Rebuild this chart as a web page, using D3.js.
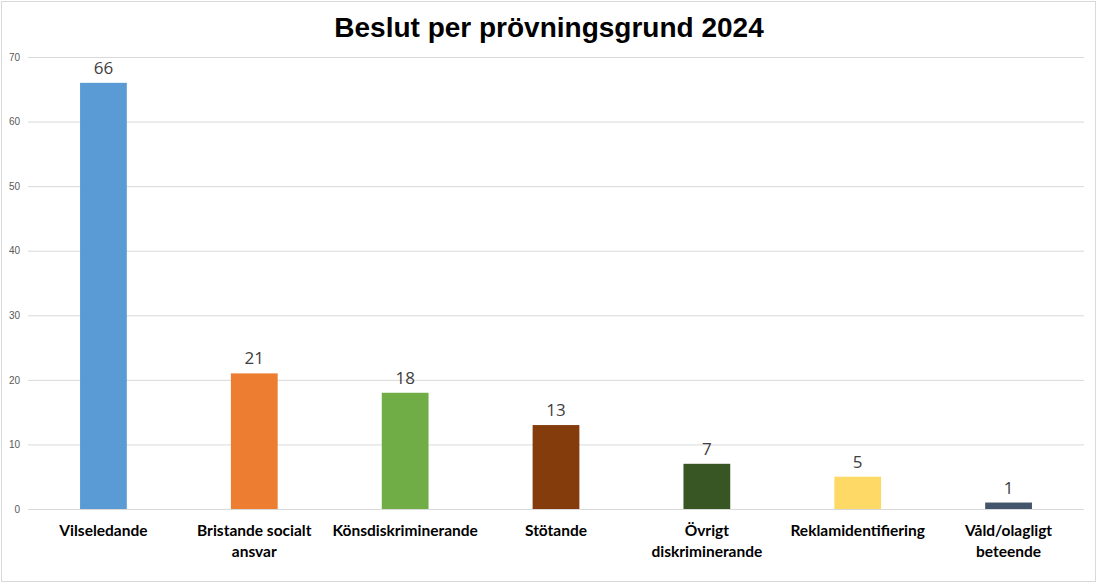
<!DOCTYPE html>
<html>
<head>
<meta charset="utf-8">
<script src="https://cdn.jsdelivr.net/npm/d3@7"></script>
<style>
    body { margin: 0; background: #fff; }
    svg { display: block; }
</style>
</head>
<body>
<svg id="chart" width="1098" height="584"></svg>
<script>
// categories, "|" marks where the label wraps
const categories = [
    "Vilseledande",
    "Bristande socialt|ansvar",
    "Könsdiskriminerande",
    "Stötande",
    "Övrigt|diskriminerande",
    "Reklamidentifiering",
    "Våld/olagligt|beteende"
]

const decisions = [66, 21, 18, 13, 7, 5, 1]

const barColors = [
    "#5B9BD5",
    "#ED7D31",
    "#70AD47",
    "#843C0C",
    "#375623",
    "#FFD966",
    "#44546A"
]

const yTicks = [0, 10, 20, 30, 40, 50, 60, 70]

let margin = {
    top: 57,
    right: 14, // leave space at right edge
    bottom: 75, // leave space for x-axis labels
    left: 28
};

let svg = d3.select("#chart");
let width = 1098, height = 584;
let plotWidth = width - margin.left - margin.right;
let plotHeight = height - margin.top - margin.bottom;

// outer border
svg.append("rect")
    .attr("x", 1.5).attr("y", 1.5)
    .attr("width", width - 4).attr("height", height - 4)
    .attr("fill", "#fff")
    .attr("stroke", "#d9d9d9");

svg.append("text")
    .attr("x", width / 2)
    .attr("y", 37)
    .attr("text-anchor", "middle")
    .style("font-family", "Liberation Sans, Arial, sans-serif")
    .style("font-weight", "bold")
    .style("font-size", "28px")
    .text("Beslut per prövningsgrund 2024");

let plot = svg.append("g")
    .attr("transform", "translate(" + margin.left + "," + margin.top + ")");

let yScale = d3.scaleLinear()
    .domain([0, 70])
    .range([plotHeight, 0]);

let xScale = d3.scaleBand()
    .domain(categories)
    .range([0, plotWidth])
    .paddingInner(0.69)
    .paddingOuter(0.345);

// gridlines + y labels
let yAxis = d3.axisLeft(yScale)
    .tickValues(yTicks)
    .tickSize(-plotWidth)
    .tickPadding(8);

let yGroup = plot.append("g").attr("id", "y-axis").call(yAxis);
yGroup.select(".domain").remove();
yGroup.selectAll(".tick line").attr("stroke", "#d9d9d9");
yGroup.selectAll(".tick text")
    .attr("fill", "#595959")
    .style("font-family", "Liberation Sans, Arial, sans-serif")
    .style("font-size", "10px");

let bars = plot.selectAll("rect.bar")
    .data(categories)
    .enter().append("rect")
    .attr("class", "bar")
    .attr("x", function(d) { return xScale(d); })
    .attr("width", xScale.bandwidth())
    .attr("y", function(d, i) { return yScale(decisions[i]); })
    .attr("height", function(d, i) { return plotHeight - yScale(decisions[i]); })
    .attr("fill", function(d, i) { return barColors[i]; });

plot.selectAll("text.value")
    .data(categories)
    .enter().append("text")
    .attr("class", "value")
    .attr("x", function(d) { return xScale(d) + xScale.bandwidth() / 2; })
    .attr("y", function(d, i) { return yScale(decisions[i]) - 9; })
    .attr("text-anchor", "middle")
    .attr("fill", "#404040")
    .style("font-family", "Open Sans, DejaVu Sans, sans-serif")
    .style("font-size", "17px")
    .text(function(d, i) { return decisions[i]; });

// x labels, wrapped
let xLabels = plot.selectAll("text.cat")
    .data(categories)
    .enter().append("text")
    .attr("class", "cat")
    .attr("text-anchor", "middle")
    .attr("fill", "#000")
    .style("font-family", "Lato, Open Sans, sans-serif")
    .style("font-weight", "bold")
    .style("font-size", "15.5px");

xLabels.each(function(d) {
    let lines = d.split("|");
    let t = d3.select(this);
    let cx = xScale(d) + xScale.bandwidth() / 2;
    lines.forEach(function(line, j) {
        t.append("tspan")
            .attr("x", cx)
            .attr("y", plotHeight + 27 + j * 21)
            .text(line);
    });
});
</script>
</body>
</html>
